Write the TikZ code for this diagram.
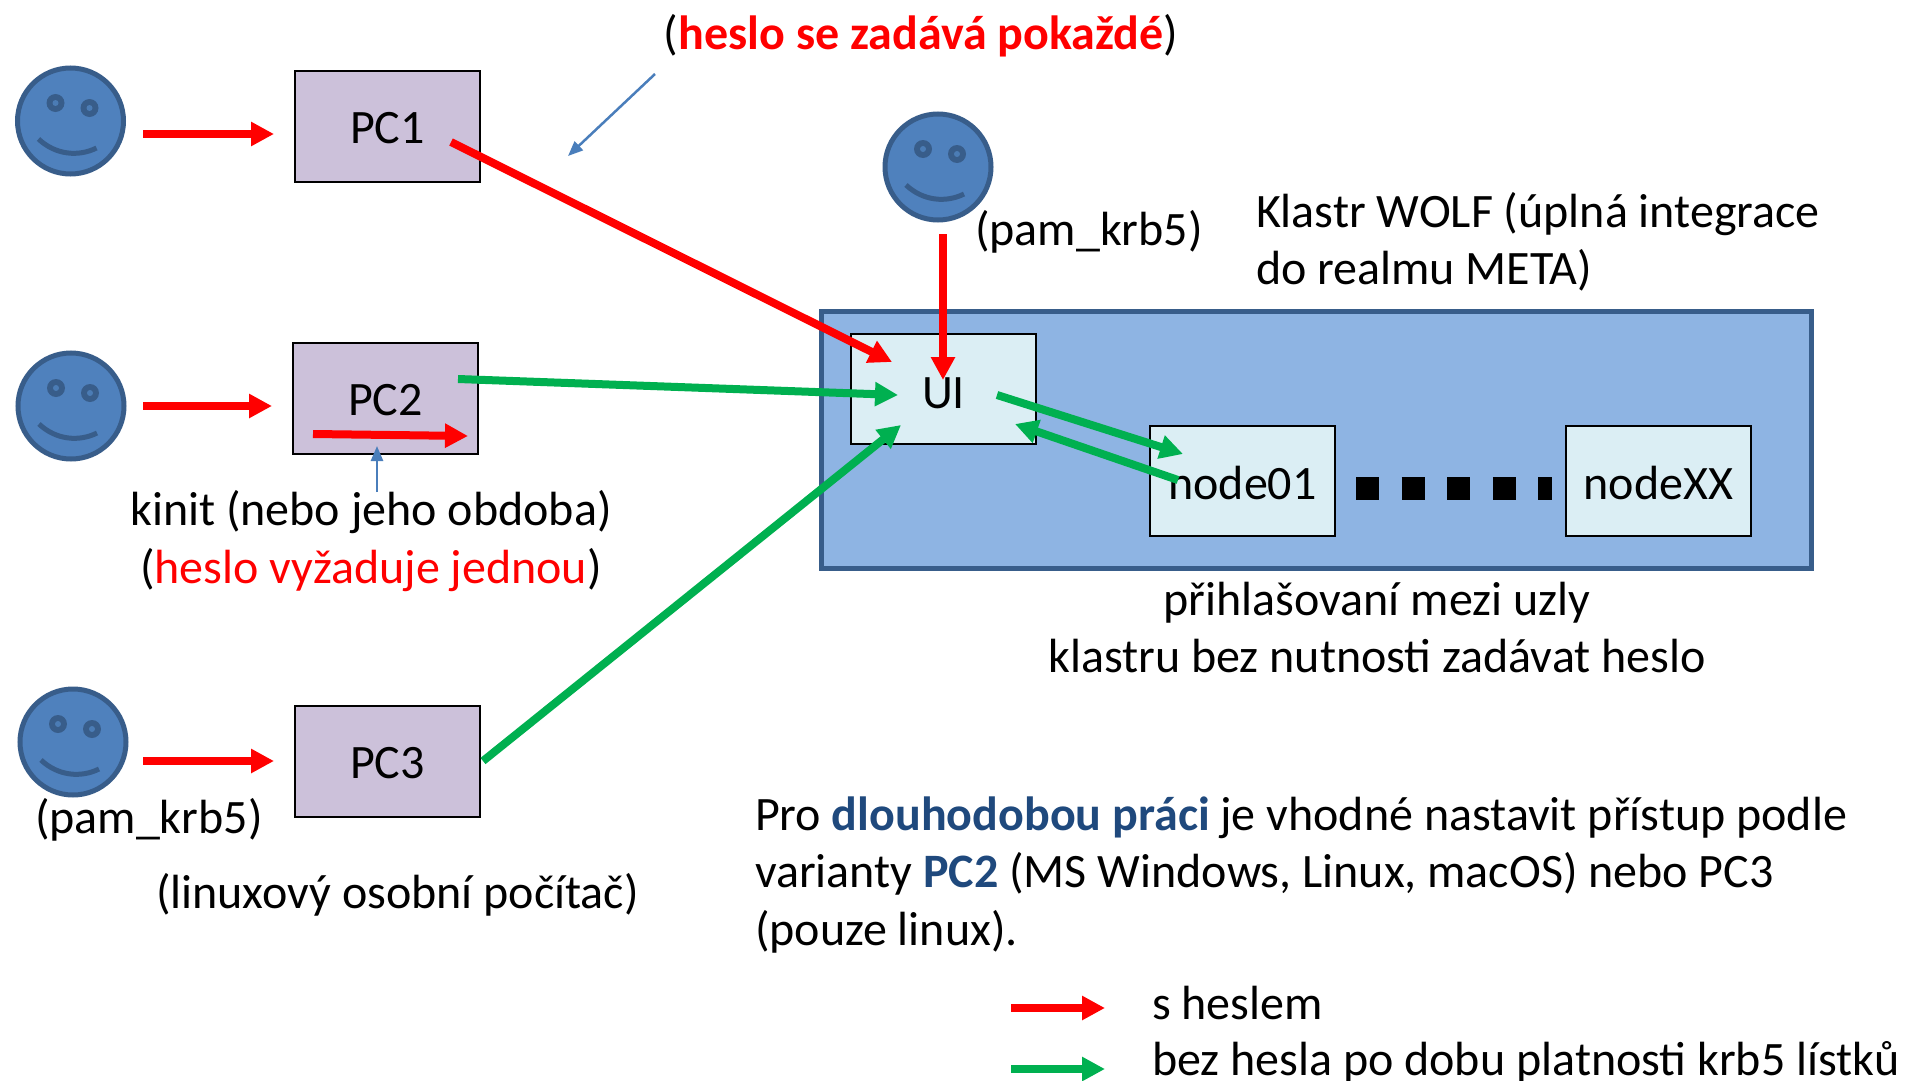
\documentclass[tikz,border=0pt]{standalone}
\usepackage{fontspec}
\setmainfont{Carlito}
\usetikzlibrary{arrows.meta}
\definecolor{facefill}{HTML}{4F81BD}
\definecolor{faceline}{HTML}{385D8A}
\definecolor{pcfill}{HTML}{CCC1DA}
\definecolor{clusterfill}{HTML}{8EB4E3}
\definecolor{uifill}{HTML}{DBEEF4}
\definecolor{arrowgreen}{HTML}{00B050}
\definecolor{thinblue}{HTML}{4A7EBB}
\definecolor{darkblue}{HTML}{1F497D}
\tikzset{
  x=1pt,y=-1pt,
  every node/.style={font=\fontsize{48}{58}\selectfont,inner sep=0pt,outer sep=0pt},
  facenode/.style={circle,minimum size=106pt,fill=facefill,draw=faceline,line width=5pt},
  pcshape/.style={rectangle,draw=black,line width=2pt,anchor=north west},
  pcbox/.style={pcshape,fill=pcfill,minimum width=185pt,minimum height=111pt},
  clusterbox/.style={rectangle,draw=faceline,line width=5pt,fill=clusterfill,anchor=north west,minimum width=990pt,minimum height=257pt},
  uibox/.style={pcshape,fill=uifill,minimum width=185pt,minimum height=110pt},
  redarrow/.style={draw=red,line width=8pt,-{Triangle[length=23pt,width=23pt]}},
  greenarrow/.style={draw=arrowgreen,line width=8pt,-{Triangle[length=23pt,width=23pt]}},
  thinarrow/.style={draw=thinblue,line width=2.5pt,-{Triangle[length=15pt,width=12pt]}},
  dotsline/.style={draw=black,line width=23pt,dash pattern=on 23pt off 22.6pt},
  textlabel/.style={anchor=base west},
  centerlabel/.style={anchor=base},
  facepic/.pic={
    \fill[faceline] (-15,-18) circle (9);
    \fill[faceline] (19,-13) circle (9);
    \fill[facefill!85!faceline] (-15,-18) circle (3);
    \fill[facefill!85!faceline] (19,-13) circle (3);
    \draw[faceline,line width=5pt] (-32,18) .. controls (-15,34) and (8,36) .. (26,27);
  }
}
\newcommand{\lowered}[2]{\raisebox{-#1}[\height][\depth]{#2}}
\begin{document}
\begin{tikzpicture}
\useasboundingbox (0,0) rectangle (1907,1081);
% people
\node[facenode] (f1) at (70.5,121) {};
\node[facenode] (f2) at (71,406) {};
\node[facenode] (f3) at (73,742) {};
\node[facenode] (f4) at (938,167) {};
\pic at (f1) {facepic};
\pic at (f2) {facepic};
\pic at (f3) {facepic};
\pic at (f4) {facepic};
% computers
\node[pcbox] (pc1) at (295,71) {\lowered{1.5pt}{PC1}};
\node[pcbox] (pc2) at (293,343) {\lowered{1.5pt}{PC2}};
\node[pcbox] (pc3) at (295,706) {\lowered{2pt}{PC3}};
% cluster
\node[clusterbox] (cluster) at (821,311) {};
\node[uibox] (ui) at (851,334) {\lowered{4pt}{UI}};
\node[uibox] (n1) at (1150,426) {\lowered{2pt}{node01}};
\node[uibox] (nx) at (1566,426) {\lowered{2pt}{nodeXX}};
% free ends
\coordinate (a1s) at (143,134);
\coordinate (a1e) at (274,134);
\coordinate (a2s) at (143,406);
\coordinate (a2e) at (272,406);
\coordinate (a3s) at (143,761);
\coordinate (a3e) at (274,761);
\coordinate (r1s) at (451,142);
\coordinate (r1e) at (892,362);
\coordinate (r2s) at (943,234);
\coordinate (r2e) at (943,380);
\coordinate (k1s) at (313,434);
\coordinate (k1e) at (468,436);
\coordinate (g1s) at (458,379);
\coordinate (g1e) at (898,395);
\coordinate (g2s) at (483,761);
\coordinate (g2e) at (901,425);
\coordinate (g3s) at (997,395);
\coordinate (g3e) at (1183,454);
\coordinate (g4s) at (1178,480);
\coordinate (g4e) at (1015,424);
\coordinate (t1s) at (655,74);
\coordinate (t1e) at (568,156);
\coordinate (t2s) at (377,492);
\coordinate (t2e) at (377,446);
\coordinate (d1) at (1356,488);
\coordinate (d2) at (1552,488);
\coordinate (l1s) at (1011,1008);
\coordinate (l1e) at (1105,1008);
\coordinate (l2s) at (1011,1069);
\coordinate (l2e) at (1105,1069);
% connectors
\draw[redarrow] (a1s) -- (a1e);
\draw[redarrow] (a2s) -- (a2e);
\draw[redarrow] (a3s) -- (a3e);
\draw[redarrow] (r1s) -- (r1e);
\draw[redarrow] (r2s) -- (r2e);
\draw[redarrow] (k1s) -- (k1e);
\draw[greenarrow] (g1s) -- (g1e);
\draw[greenarrow] (g2s) -- (g2e);
\draw[greenarrow] (g3s) -- (g3e);
\draw[greenarrow] (g4s) -- (g4e);
\draw[thinarrow] (t1s) -- (t1e);
\draw[thinarrow] (t2s) -- (t2e);
\draw[dotsline] (d1) -- (d2);
\draw[redarrow] (l1s) -- (l1e);
\draw[greenarrow] (l2s) -- (l2e);
% labels
\node[centerlabel] (t1) at (921,50) {(\textcolor{red}{\textbf{heslo se zadává pokaždé}})};
\node[textlabel] (t2) at (1256,227) {Klastr WOLF (úplná integrace};
\node[textlabel] (t3) at (1256,284) {do realmu META)};
\node[textlabel] (t4) at (975,245) {(pam\_krb5)};
\node[centerlabel] (t5) at (371,525) {kinit (nebo jeho obdoba)};
\node[centerlabel] (t6) at (371,583) {(\textcolor{red}{heslo vyžaduje jednou})};
\node[textlabel] (t7) at (35,833) {(pam\_krb5)};
\node[textlabel] (t8) at (156,908) {(linuxový osobní počítač)};
\node[centerlabel] (t9) at (1377,615) {přihlašovaní mezi uzly};
\node[centerlabel] (t10) at (1377,672) {klastru bez nutnosti zadávat heslo};
\node[textlabel] (t11) at (755,830) {Pro \textcolor{darkblue}{\textbf{dlouhodobou práci}} je vhodné nastavit přístup podle};
\node[textlabel] (t12) at (755,887) {varianty \textcolor{darkblue}{\textbf{PC2}} (MS Windows, Linux, macOS) nebo PC3};
\node[textlabel] (t13) at (755,945) {(pouze linux).};
\node[textlabel] (t14) at (1152,1019) {s heslem};
\node[textlabel] (t15) at (1152,1075) {bez hesla po dobu platnosti krb5 lístků};
\end{tikzpicture}
\end{document}
